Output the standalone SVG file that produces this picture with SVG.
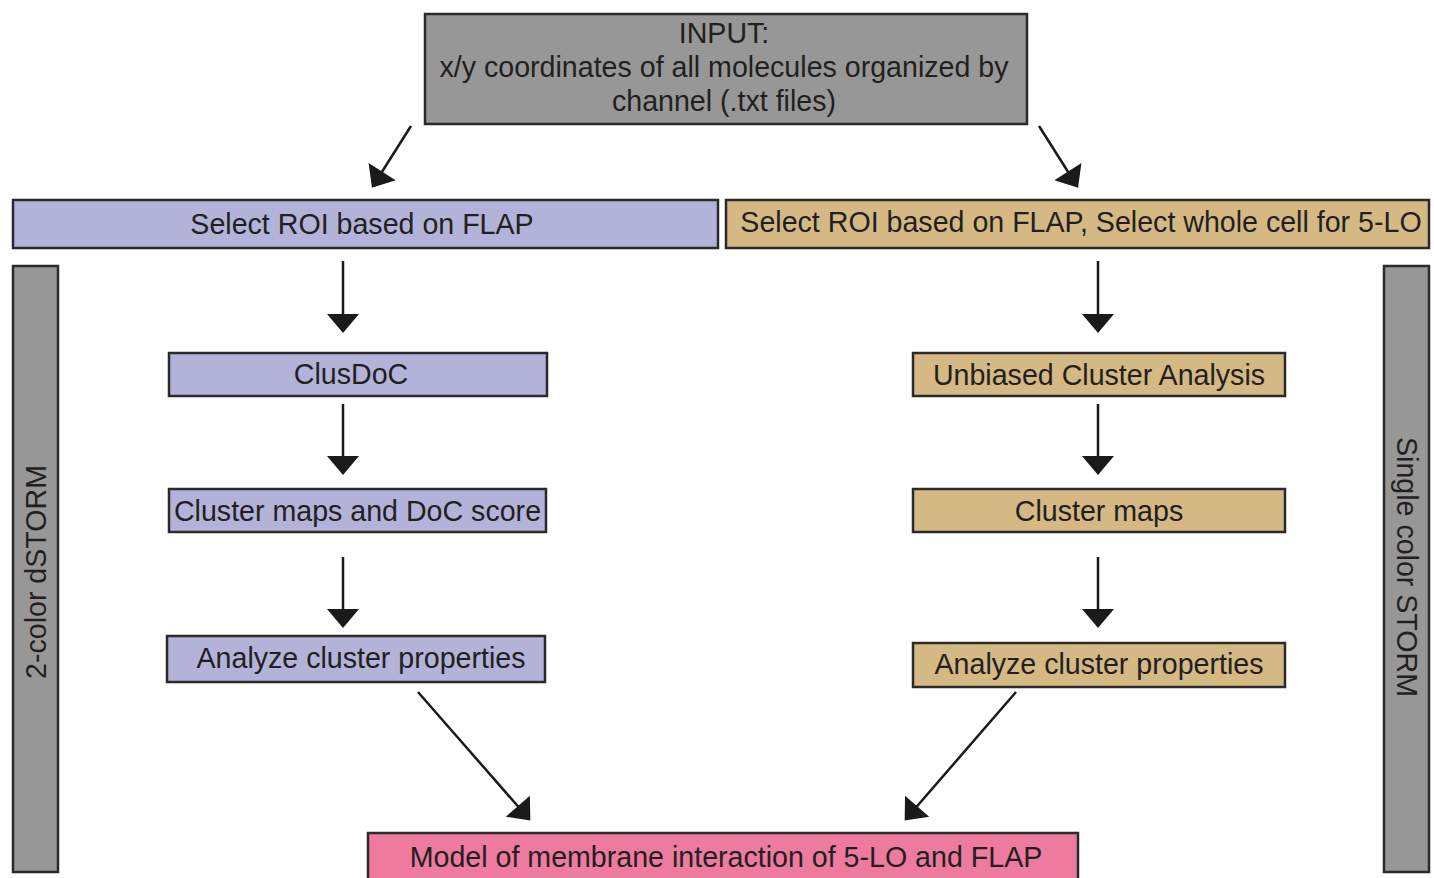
<svg xmlns="http://www.w3.org/2000/svg" width="1434" height="878" viewBox="0 0 1434 878">
<style>
.box{stroke:#2a2a2a;stroke-width:2.5}
.gray{fill:#979797}
.pur{fill:#b3b3da}
.tan{fill:#d4b985}
.pink{fill:#ee7aa0}
text{font-family:"Liberation Sans",Arial,sans-serif;font-size:28.6px;fill:#231f20;text-anchor:middle}
.conn line{stroke:#1a1a1a;stroke-width:2.5;marker-end:url(#ah)}
</style>
<defs>
<marker id="ah" markerUnits="userSpaceOnUse" markerWidth="40" markerHeight="40" viewBox="-20 -20 40 40" refX="-2" refY="0" orient="auto">
<path d="M-19,-16 L0,0 L-19,16 z" fill="#1a1a1a"/>
</marker>
</defs>
<rect width="1434" height="878" fill="#ffffff"/>
<g id="input">
<rect class="box gray" x="425" y="14" width="602" height="110"/>
<text x="724" y="43">INPUT:</text>
<text x="724" y="77">x/y coordinates of all molecules organized by</text>
<text x="724" y="111">channel (.txt files)</text>
</g>
<g id="select-left">
<rect class="box pur" x="13" y="200" width="705" height="48"/>
<text x="362" y="234">Select ROI based on FLAP</text>
</g>
<g id="select-right">
<rect class="box tan" x="726" y="200" width="703" height="48"/>
<text x="1081" y="232">Select ROI based on FLAP, Select whole cell for 5-LO</text>
</g>
<g id="side-left">
<rect class="box gray" x="13" y="266" width="45" height="606"/>
<text transform="translate(46,572) rotate(-90)">2-color dSTORM</text>
</g>
<g id="side-right">
<rect class="box gray" x="1384" y="266" width="45" height="606"/>
<text transform="translate(1397,567) rotate(90)">Single color STORM</text>
</g>
<g id="clusdoc">
<rect class="box pur" x="169" y="353" width="378" height="43"/>
<text x="351" y="384">ClusDoC</text>
</g>
<g id="cluster-doc">
<rect class="box pur" x="169" y="489" width="377" height="43"/>
<text x="357.5" y="521">Cluster maps and DoC score</text>
</g>
<g id="analyze-left">
<rect class="box pur" x="167" y="636" width="378" height="46"/>
<text x="361" y="668">Analyze cluster properties</text>
</g>
<g id="unbiased">
<rect class="box tan" x="913" y="353" width="372" height="43"/>
<text x="1099" y="385">Unbiased Cluster Analysis</text>
</g>
<g id="cluster-maps">
<rect class="box tan" x="913" y="489" width="372" height="43"/>
<text x="1099" y="521">Cluster maps</text>
</g>
<g id="analyze-right">
<rect class="box tan" x="913" y="643" width="372" height="44"/>
<text x="1099" y="674">Analyze cluster properties</text>
</g>
<g id="model">
<rect class="box pink" x="368" y="833" width="710" height="50"/>
<text x="726" y="867">Model of membrane interaction of 5-LO and FLAP</text>
</g>
<g id="connectors" class="conn">
<line x1="411" y1="126" x2="373" y2="186"/>
<line x1="1039" y1="126" x2="1077" y2="186"/>
<line x1="343" y1="261" x2="343" y2="331"/>
<line x1="343" y1="404" x2="343" y2="473"/>
<line x1="343" y1="557" x2="343" y2="626"/>
<line x1="1098" y1="261" x2="1098" y2="331"/>
<line x1="1098" y1="404" x2="1098" y2="473"/>
<line x1="1098" y1="557" x2="1098" y2="626"/>
<line x1="418" y1="692" x2="529" y2="819"/>
<line x1="1016" y1="692" x2="906" y2="819"/>
</g>
</svg>
